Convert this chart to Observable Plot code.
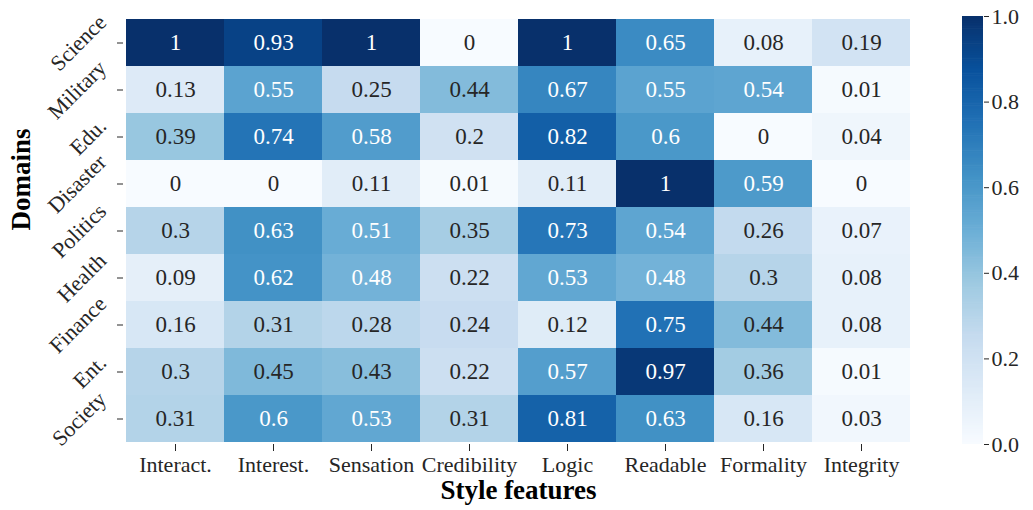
<!DOCTYPE html>
<html>
<head>
<meta charset="utf-8">
<script src="https://cdn.jsdelivr.net/npm/d3@7"></script>
<script src="https://cdn.jsdelivr.net/npm/@observablehq/plot@0.6"></script>
</head>
<body style="margin:0;background:#fff">
<div id="wrap" style="position:relative;width:1033px;height:510px">
  <div id="main" style="position:absolute;left:0;top:0"></div>
  <div id="cbar" style="position:absolute;left:935px;top:0"></div>
</div>
<script>
// ---- data ----
const features = ["Interact.", "Interest.", "Sensation", "Credibility", "Logic", "Readable", "Formality", "Integrity"];
const domains = ["Science", "Military", "Edu.", "Disaster", "Politics", "Health", "Finance", "Ent.", "Society"];
const science  = [1, 0.93, 1, 0, 1, 0.65, 0.08, 0.19];
const military = [0.13, 0.55, 0.25, 0.44, 0.67, 0.55, 0.54, 0.01];
const edu      = [0.39, 0.74, 0.58, 0.2, 0.82, 0.6, 0, 0.04];
const disaster = [0, 0, 0.11, 0.01, 0.11, 1, 0.59, 0];
const politics = [0.3, 0.63, 0.51, 0.35, 0.73, 0.54, 0.26, 0.07];
const health   = [0.09, 0.62, 0.48, 0.22, 0.53, 0.48, 0.3, 0.08];
const finance  = [0.16, 0.31, 0.28, 0.24, 0.12, 0.75, 0.44, 0.08];
const ent      = [0.3, 0.45, 0.43, 0.22, 0.57, 0.97, 0.36, 0.01];
const society  = [0.31, 0.6, 0.53, 0.31, 0.81, 0.63, 0.16, 0.03];
const colorbarTicks = [0, 0.2, 0.4, 0.6, 0.8, 1.0];
const xTitle = "Style features";
const yTitle = "Domains";

// ---- build table ----
const rows = [science, military, edu, disaster, politics, health, finance, ent, society];
const table = [];
rows.forEach((vals, i) => vals.forEach((v, j) => table.push({domain: domains[i], feature: features[j], value: v})));

// matplotlib "Blues"
const blues9 = ["#f7fbff", "#deebf7", "#c6dbef", "#9ecae1", "#6baed6", "#4292c6", "#2171b5", "#08519c", "#08306b"];
const interp = d3.piecewise(d3.interpolateRgb, blues9);
const colorScale = {type: "linear", domain: [0, 1], interpolate: interp};

function textColor(v) {
  const c = d3.rgb(interp(v));
  const lin = x => { x /= 255; return x <= 0.03928 ? x / 12.92 : Math.pow((x + 0.055) / 1.055, 2.4); };
  const lum = 0.2126 * lin(c.r) + 0.7152 * lin(c.g) + 0.0722 * lin(c.b);
  return lum > 0.408 ? "#262626" : "#ffffff";
}

const FONT = "Liberation Serif";
const TICK_FS = 22;
const CELL_FS = 23;
const TITLE_FS = 27;
const ML = 123, MT = 16, MB = 66, W = 945, H = 510, MR = 32;
const YTICK = 6;

const chart = Plot.plot({
  width: W, height: H,
  marginLeft: ML, marginRight: MR, marginTop: MT, marginBottom: MB,
  style: {fontFamily: FONT, fontSize: TICK_FS + "px", color: "#262626"},
  x: {type: "band", domain: features, padding: 0, label: null},
  y: {type: "band", domain: domains, padding: 0, label: null},
  color: colorScale,
  marks: [
    Plot.cell(table, {x: "feature", y: "domain", fill: "value", inset: 0, shapeRendering: "crispEdges"}),
    Plot.text(table, {x: "feature", y: "domain", text: d => String(d.value), fill: d => textColor(d.value), fontSize: CELL_FS, fontFamily: FONT}),
    Plot.axisX({anchor: "bottom", tickSize: 7, tickPadding: 5, label: null, fontSize: TICK_FS, fontFamily: FONT}),
    Plot.axisY({anchor: "left", tickSize: YTICK, tickPadding: 4, tickRotate: -45, label: null, fontSize: TICK_FS, fontFamily: FONT}),
    Plot.text([xTitle], {frameAnchor: "bottom", dy: 54, text: d => d, fontWeight: "bold", fontSize: TITLE_FS, fill: "#000", fontFamily: FONT}),
    Plot.text([yTitle], {frameAnchor: "left", dx: -102, dy: 0, rotate: -90, text: d => d, fontWeight: "bold", fontSize: TITLE_FS, fill: "#000", fontFamily: FONT})
  ]
});
document.getElementById("main").appendChild(chart);

// place rotated y tick labels like matplotlib (rotated bbox right-aligned, centred on tick)
const yScale = chart.scale("y");
const g = chart.querySelector('g[aria-label="y-axis tick label"]');
if (g) {
  g.removeAttribute("transform");
  g.setAttribute("text-anchor", "middle");
  const c45 = Math.SQRT1_2;
  g.querySelectorAll("text").forEach(t => {
    const label = t.textContent;
    const L = t.getComputedTextLength();
    const h = TICK_FS * 0.75;
    const w = (L + h) * c45;
    const cy = yScale.apply(label) + yScale.bandwidth / 2;
    const cx = ML - YTICK - 9 - w / 2;
    t.removeAttribute("x");
    t.setAttribute("y", "0");
    t.setAttribute("dy", "0.35em");
    t.setAttribute("transform", `translate(${cx},${cy}) rotate(-45)`);
  });
}

// ---- colorbar ----
const step = 0.005;
const steps = d3.range(0, 1, step);
const cbar = Plot.plot({
  width: 98, height: H,
  marginLeft: 27, marginRight: 50, marginTop: MT, marginBottom: MB,
  style: {fontFamily: FONT, fontSize: TICK_FS + "px", color: "#262626"},
  x: {domain: [0, 1], axis: null},
  y: {domain: [0, 1], label: null},
  color: colorScale,
  marks: [
    Plot.rect(steps, {x1: () => 0, x2: () => 1, y1: d => d, y2: d => Math.min(1, d + step * 1.3), fill: d => d + step / 2, inset: 0}),
    Plot.axisY({anchor: "right", ticks: colorbarTicks, tickFormat: d3.format(".1f"), tickSize: 5, tickPadding: 3, label: null, fontSize: TICK_FS, fontFamily: FONT})
  ]
});
document.getElementById("cbar").appendChild(cbar);
</script>
</body>
</html>
